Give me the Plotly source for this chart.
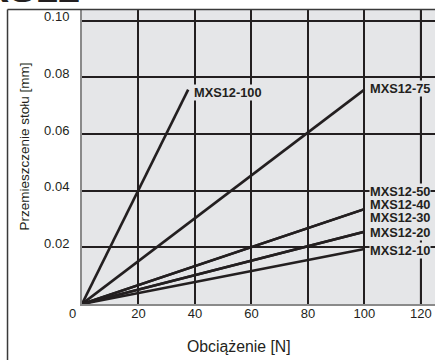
import plotly.graph_objects as go

# ---- data ----
series_names = ["MXS12-100", "MXS12-75", "MXS12-50", "MXS12-40", "MXS12-30", "MXS12-20", "MXS12-10"]
load_100 = [0, 37.6]
disp_100 = [0, 0.0757]
load_75 = [0, 100]
disp_75 = [0, 0.0757]
load_50 = [0, 100]
disp_50 = [0, 0.0335]
load_40 = [0, 100]
disp_40 = [0, 0.0335]
load_30 = [0, 100]
disp_30 = [0, 0.0255]
load_20 = [0, 100]
disp_20 = [0, 0.0255]
load_10 = [0, 100]
disp_10 = [0, 0.0194]

x_ticks = [20, 40, 60, 80, 100, 120]
y_ticks = [0.02, 0.04, 0.06, 0.08, 0.10]
y_tick_text = ["0.02", "0.04", "0.06", "0.08", "0.10"]

loads = [load_100, load_75, load_50, load_40, load_30, load_20, load_10]
disps = [disp_100, disp_75, disp_50, disp_40, disp_30, disp_20, disp_10]
# label pixel offsets (layout only)
label_shift = [(5, -2.5), (5, 1.5), (5, 17.3), (5, 5), (5, 14), (5, -0.6), (5, -1)]

INK = "#231f20"
BG = "#e5e6e8"
FONT = "Liberation Sans, Arial, sans-serif"

fig = go.Figure()
for name, xs, ys in zip(series_names, loads, disps):
    fig.add_trace(go.Scatter(x=xs, y=ys, mode="lines", name=name,
                             line=dict(color=INK, width=2.6), showlegend=False,
                             hoverinfo="skip"))

annotations = []
for name, xs, ys, (dx, dy) in zip(series_names, loads, disps, label_shift):
    annotations.append(dict(x=xs[-1], y=ys[-1], xref="x", yref="y", text=name,
                            showarrow=False, xanchor="left", yanchor="middle",
                            xshift=dx, yshift=dy, bgcolor=BG, borderpad=0,
                            font=dict(family=FONT, size=12.8, color=INK, weight="bold")))

# origin "0"
annotations.append(dict(x=0, y=0, xref="x", yref="y", text="0", showarrow=False,
                        xanchor="center", yanchor="middle", xshift=-10, yshift=-9,
                        font=dict(family=FONT, size=13, color=INK)))
# axis titles
annotations.append(dict(x=0.4448, y=-0.146, xref="paper", yref="paper",
                        text="Obciążenie [N]", showarrow=False,
                        xanchor="center", yanchor="middle",
                        font=dict(family=FONT, size=15.8, color=INK)))
annotations.append(dict(x=-0.1615, y=0.5357, xref="paper", yref="paper",
                        text="Przemieszczenie stołu [mm]", showarrow=False,
                        textangle=-90, xanchor="center", yanchor="middle",
                        font=dict(family=FONT, size=13.5, color=INK)))
# cut-off header
annotations.append(dict(x=0, y=0.993, xref="paper", yref="paper", text="MXS12",
                        showarrow=False, xanchor="right", yanchor="bottom",
                        font=dict(family=FONT, size=40, color=INK, weight="bold")))

shapes = [
    # outer frame (left and top)
    dict(type="line", xref="paper", yref="paper", x0=-0.211, x1=-0.211, y0=-0.2, y1=1.0017,
         line=dict(color="#3a3a3a", width=1.5)),
    dict(type="line", xref="paper", yref="paper", x0=-0.211, x1=1.01, y0=1.0017, y1=1.0017,
         line=dict(color="#3a3a3a", width=1.5)),
    # grey last vertical grid line
    dict(type="line", xref="x", yref="paper", x0=120, x1=120, y0=0, y1=1,
         line=dict(color="#7d7d7d", width=2.2), layer="between"),
]

fig.update_layout(
    width=435, height=360,
    margin=dict(l=82, r=0, t=10, b=56),
    paper_bgcolor="white", plot_bgcolor=BG,
    font=dict(family=FONT, size=13, color=INK),
    annotations=annotations, shapes=shapes,
    xaxis=dict(range=[0, 125], tickvals=x_ticks, ticktext=[str(v) for v in x_ticks],
               showgrid=True, gridcolor=INK, gridwidth=1.5, zeroline=False,
               showline=True, linecolor="#8a8a8a", linewidth=2, ticks="",
               ticklabelstandoff=-4,
               tickfont=dict(size=13, color=INK)),
    yaxis=dict(range=[0, 0.1038], tickvals=y_ticks, ticktext=y_tick_text,
               showgrid=True, gridcolor=INK, gridwidth=1.5, zeroline=False,
               showline=True, linecolor="#8a8a8a", linewidth=2, ticks="",
               ticklabelshift=-4, ticklabelstandoff=8,
               tickfont=dict(size=13, color=INK)),
)

fig.write_html("out.html")
